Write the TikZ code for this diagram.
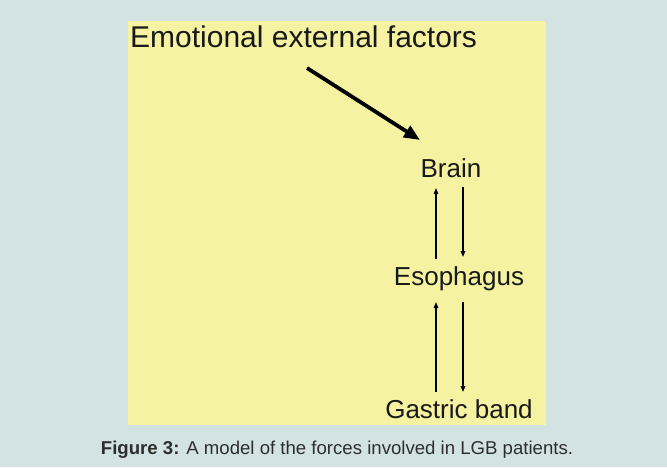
\documentclass[tikz,border=0pt]{standalone}
\usepackage{fontspec}
\setmainfont{Liberation Sans}
\usetikzlibrary{arrows.meta,positioning}
\definecolor{pagebg}{RGB}{211,227,227}
\definecolor{boxbg}{RGB}{245,243,162}
\definecolor{inktext}{RGB}{25,25,25}
\definecolor{captext}{RGB}{45,45,45}

\begin{document}
\begin{tikzpicture}[x=1pt, y=-1pt,
    every node/.style={inner sep=0pt, text=inktext},
    organ/.style={anchor=base, font=\fontsize{26}{30}\selectfont},
    flow/.style={line width=1.3pt, -{Triangle[length=6pt,width=4.5pt]}},
    push/.style={line width=3.8pt, -{Triangle[length=16pt,width=13pt]}}]
  \fill[pagebg] (0,0) rectangle (667,467);
  \fill[boxbg] (128,21) rectangle (546,425);
  \node[anchor=base west, font=\fontsize{30}{36}\selectfont] (title) at (130,47) {Emotional external factors};
  \node[organ] (brain) at (451,177) {Brain};
  \node[organ] (esoph) at (459,285) {Esophagus};
  \node[organ] (gastric) at (459,418) {Gastric band};
  \draw[push] ([xshift=177pt,yshift=-21pt]title.base west) -- ([xshift=-31pt,yshift=37pt]brain.base);
  \draw[flow] ([xshift=-23pt,yshift=26pt]esoph.base) -- ([xshift=-15pt,yshift=-11pt]brain.base);
  \draw[flow] ([xshift=12pt,yshift=-10pt]brain.base) -- ([xshift=4pt,yshift=28pt]esoph.base);
  \draw[flow] ([xshift=-23pt,yshift=26pt]gastric.base) -- ([xshift=-23pt,yshift=-17pt]esoph.base);
  \draw[flow] ([xshift=4pt,yshift=-17pt]esoph.base) -- ([xshift=4pt,yshift=26pt]gastric.base);
  \node[anchor=base, text=captext, font=\fontsize{18.6}{22}\selectfont] (caption) at (337,454) {\textbf{Figure 3:} A model of the forces involved in LGB patients.};
\end{tikzpicture}
\end{document}
